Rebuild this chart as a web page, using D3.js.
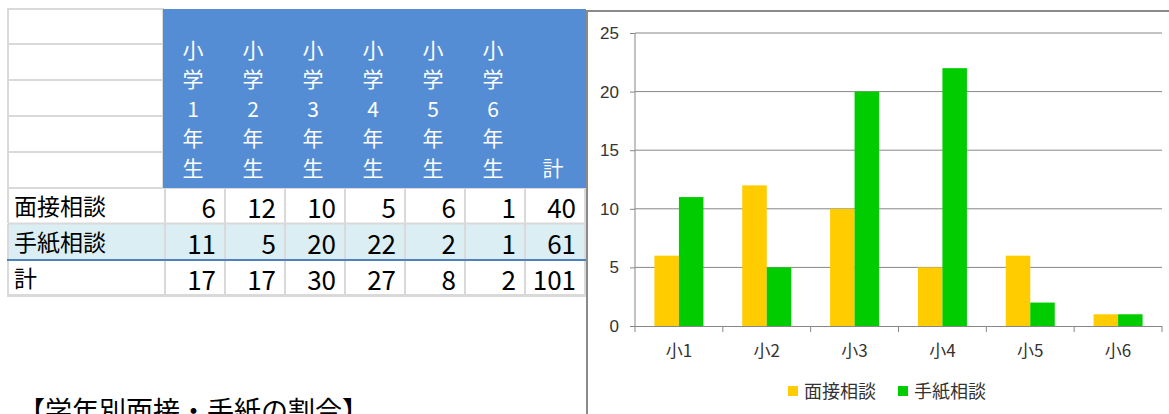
<!DOCTYPE html>
<html><head><meta charset="utf-8">
<script src="https://cdn.jsdelivr.net/npm/d3@7/dist/d3.min.js"></script>
<style>
html,body{margin:0;padding:0;background:#fff;overflow:hidden;}
svg{display:block;}
</style></head>
<body>
<script>
const grades = ["小1","小2","小3","小4","小5","小6"];
const headerLabels = ["小学1年生","小学2年生","小学3年生","小学4年生","小学5年生","小学6年生","計"];
const rowLabels = ["面接相談","手紙相談","計"];
const mensetsu = [6,12,10,5,6,1];
const tegami = [11,5,20,22,2,1];
const totals = [17,17,30,27,8,2];
const rowTotals = [40,61,101];
const seriesNames = ["面接相談","手紙相談"];
const yTicks = [0,5,10,15,20,25];
const title = "【学年別面接・手紙の割合】";

const W = 1169, H = 414;
const svg = d3.select("body").append("svg").attr("width", W).attr("height", H);
const jp = "'Noto Sans CJK JP', 'Noto Sans', sans-serif";

// ---------- Table ----------
const tbl = svg.append("g");
const colX = d3.scaleBand().domain(d3.range(7)).range([165, 585]);
const headRows = [9, 44, 80, 116, 152, 188];
const dataRows = [188, 224, 260, 296];
const gridC = "#d9d9d9";

for (let i = 0; i < 5; i++) {
  tbl.append("rect").attr("x", 8).attr("y", headRows[i]).attr("width", 155).attr("height", headRows[i+1]-headRows[i])
    .attr("fill", "#fff").attr("stroke", gridC).attr("stroke-width", 2);
}
tbl.append("rect").attr("x", 163).attr("y", 9).attr("width", 423).attr("height", 179).attr("fill", "#548dd4");

headerLabels.forEach((lab, j) => {
  const chars = Array.from(lab);
  const n = chars.length;
  chars.forEach((c, k) => {
    const cy = 168 - (n - 1 - k) * 29.5;
    tbl.append("text").attr("x", colX(j) + colX.bandwidth()/2 - 2).attr("y", cy + 7.5)
      .attr("text-anchor", "middle").attr("font-family", jp).attr("font-size", 21)
      .attr("fill", "#fff").text(c);
  });
});

const tableData = [mensetsu.concat([rowTotals[0]]), tegami.concat([rowTotals[1]]), totals.concat([rowTotals[2]])];
tableData.forEach((row, i) => {
  const y0 = dataRows[i], y1 = dataRows[i+1] - 1;
  const bg = i === 1 ? "#daeef3" : "#fff";
  tbl.append("rect").attr("x", 8).attr("y", y0).attr("width", 578).attr("height", y1 - y0).attr("fill", bg);
  [8, 165].concat(d3.range(7).map(j => colX(j) + colX.bandwidth())).forEach(x => {
    tbl.append("line").attr("x1", x).attr("x2", x).attr("y1", y0).attr("y2", y1)
      .attr("stroke", gridC).attr("stroke-width", 2);
  });
  tbl.append("text").attr("x", 14).attr("y", y0 + 27).attr("font-family", jp).attr("font-size", 23)
    .attr("fill", "#000").text(rowLabels[i]);
  row.forEach((v, j) => {
    tbl.append("text").attr("x", colX(j) + colX.bandwidth() - 9).attr("y", y0 + 30)
      .attr("text-anchor", "end").attr("font-family", jp).attr("font-size", 26)
      .attr("fill", "#000").text(v);
  });
});
tbl.append("line").attr("x1", 8).attr("x2", 586).attr("y1", 223.5).attr("y2", 223.5).attr("stroke", gridC).attr("stroke-width", 2);
tbl.append("line").attr("x1", 8).attr("x2", 586).attr("y1", 188.5).attr("y2", 188.5).attr("stroke", gridC).attr("stroke-width", 1);
tbl.append("line").attr("x1", 7).attr("x2", 586).attr("y1", 260).attr("y2", 260).attr("stroke", "#4f81bd").attr("stroke-width", 2);
tbl.append("line").attr("x1", 7).attr("x2", 586).attr("y1", 295.5).attr("y2", 295.5).attr("stroke", gridC).attr("stroke-width", 3);

// title (cut off at bottom, as in the reference)
svg.append("text").attr("x", 18).attr("y", 421).attr("font-family", jp).attr("font-size", 27)
  .attr("fill", "#000").text(title);

// ---------- Chart ----------
const ch = svg.append("g");
ch.append("line").attr("x1", 587).attr("x2", 587).attr("y1", 10).attr("y2", H).attr("stroke", "#8a8a8a").attr("stroke-width", 2);
ch.append("line").attr("x1", 587).attr("x2", W).attr("y1", 11).attr("y2", 11).attr("stroke", "#8a8a8a").attr("stroke-width", 2);

const x = d3.scaleBand().domain(grades).range([635, 1162]);
const xs = d3.scaleBand().domain(seriesNames).range([0, 49]);
const y = d3.scaleLinear().domain([0, 25]).range([326, 33]);
const gridCol = "#878787";

ch.append("g").selectAll("line").data(yTicks.filter(t => t > 0)).join("line")
  .attr("x1", 635).attr("x2", 1162).attr("y1", d => y(d)).attr("y2", d => y(d))
  .attr("stroke", gridCol).attr("stroke-width", 1);

const yAxis = ch.append("g").attr("transform", "translate(635,0)")
  .call(d3.axisLeft(y).tickValues(yTicks).tickSize(5).tickPadding(11));
yAxis.select(".domain").attr("stroke", gridCol).attr("d", "M0,33V326");
yAxis.selectAll(".tick line").attr("stroke", gridCol);
yAxis.selectAll("text").attr("font-family", "'Liberation Sans', sans-serif").attr("font-size", 17).attr("fill", "#333");

const groups = ch.append("g").selectAll("g").data(grades).join("g")
  .attr("transform", d => `translate(${x(d) + (x.bandwidth() - 49)/2},0)`);
const colors = {"面接相談": "#ffcc00", "手紙相談": "#00cc00"};
groups.selectAll("rect").data((d, i) => [
  {s: "面接相談", v: mensetsu[i]}, {s: "手紙相談", v: tegami[i]}
]).join("rect")
  .attr("x", d => xs(d.s)).attr("width", xs.bandwidth())
  .attr("y", d => y(d.v)).attr("height", d => y(0) - y(d.v))
  .attr("fill", d => colors[d.s]);

const xAxis = ch.append("g").attr("transform", "translate(0,326)")
  .call(d3.axisBottom(x).tickSize(0).tickPadding(19));
xAxis.select(".domain").attr("stroke", gridCol).attr("d", "M635,0.5H1162");
xAxis.selectAll("text").attr("font-family", jp).attr("font-size", 17).attr("fill", "#333");
ch.append("g").selectAll("line").data(d3.range(grades.length + 1)).join("line")
  .attr("x1", i => 635 + i * x.step()).attr("x2", i => 635 + i * x.step())
  .attr("y1", 326).attr("y2", 332).attr("stroke", gridCol);

const legX = [788, 898];
seriesNames.forEach((s, i) => {
  ch.append("rect").attr("x", legX[i]).attr("y", 386).attr("width", 10).attr("height", 10).attr("fill", colors[s]);
  ch.append("text").attr("x", legX[i] + 16).attr("y", 398).attr("font-family", jp).attr("font-size", 18)
    .attr("fill", "#333").text(s);
});
</script>
</body></html>
